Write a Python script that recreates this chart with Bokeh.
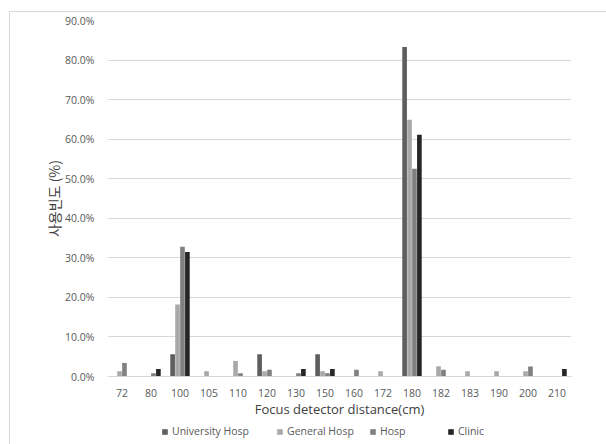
from bokeh.plotting import figure
from bokeh.layouts import column
from bokeh.models import ColumnDataSource, NumeralTickFormatter, FixedTicker, Legend, LegendItem
from bokeh.transform import dodge
from bokeh.embed import file_html
from bokeh.resources import INLINE

categories = ["72", "80", "100", "105", "110", "120", "130", "150", "160", "172",
              "180", "182", "183", "190", "200", "210"]
university = [0, 0, 5.6, 0, 0, 5.6, 0, 5.6, 0, 0, 83.3, 0, 0, 0, 0, 0]
general = [1.3, 0, 18.2, 1.3, 3.9, 1.3, 0, 1.3, 0, 1.3, 64.9, 2.6, 1.3, 1.3, 1.3, 0]
hosp = [3.4, 0.8, 32.8, 0, 0.8, 1.7, 0.8, 0.8, 1.7, 0, 52.5, 1.7, 0, 0, 2.5, 0]
clinic = [0, 1.9, 31.5, 0, 0, 0, 1.9, 1.9, 0, 0, 61.1, 0, 0, 0, 0, 1.9]
series_names = ["University Hosp", "General Hosp", "Hosp", "Clinic"]
colors = ["#5e5e5e", "#a9a9a9", "#808080", "#262626"]
y_ticks = [0, 0.1, 0.2, 0.3, 0.4, 0.5, 0.6, 0.7, 0.8, 0.9]

src = ColumnDataSource(dict(
    cat=categories,
    u=[v / 100 for v in university],
    g=[v / 100 for v in general],
    h=[v / 100 for v in hosp],
    c=[v / 100 for v in clinic],
))

p = figure(x_range=categories, y_range=(0, 0.9), width=596, height=408,
           output_backend="svg", toolbar_location=None,
           min_border_left=97, min_border_right=35, min_border_top=8, min_border_bottom=44)
p.outline_line_color = None
p.background_fill_color = "white"
p.border_fill_color = "white"

offsets = [-0.255, -0.085, 0.085, 0.255]
for key, off, col in zip(["u", "g", "h", "c"], offsets, colors):
    p.vbar(x=dodge("cat", off, range=p.x_range), top=key, width=0.16, source=src,
           fill_color=col, line_color=None)

p.yaxis.ticker = FixedTicker(ticks=y_ticks)
p.yaxis.formatter = NumeralTickFormatter(format="0.0%")
p.yaxis.axis_line_color = None
p.yaxis.major_tick_line_color = None
p.yaxis.minor_tick_line_color = None
p.yaxis.major_label_text_color = "#595959"
p.yaxis.major_label_text_font = "Open Sans"
p.yaxis.major_label_text_font_size = "10.5px"
p.yaxis.major_label_standoff = 7
p.yaxis.axis_label = "사용빈도 (%)"
p.yaxis.axis_label_text_font = "Noto Sans CJK KR"
p.yaxis.axis_label_text_font_style = "normal"
p.yaxis.axis_label_text_font_size = "14px"
p.yaxis.axis_label_text_color = "#404040"
p.yaxis.axis_label_standoff = -2

p.xaxis.axis_line_color = "#d9d9d9"
p.xaxis.major_tick_line_color = None
p.xaxis.minor_tick_line_color = None
p.xaxis.major_label_text_color = "#595959"
p.xaxis.major_label_text_font = "Open Sans"
p.xaxis.major_label_text_font_size = "10.5px"
p.xaxis.major_label_standoff = 6
p.xaxis.axis_label = "Focus detector distance(cm)"
p.xaxis.axis_label_text_font = "Open Sans"
p.xaxis.axis_label_text_font_style = "normal"
p.xaxis.axis_label_text_font_size = "13px"
p.xaxis.axis_label_text_color = "#404040"
p.xaxis.axis_label_standoff = 0

p.xgrid.grid_line_color = None
p.ygrid.grid_line_color = "#d9d9d9"
p.ygrid.grid_line_width = 1

# legend strip below the chart (its bars have zero width and lie outside the y range)
lg = figure(x_range=p.x_range, y_range=(-1, -0.5), width=596, height=24,
            output_backend="svg", toolbar_location=None,
            min_border_left=0, min_border_right=0, min_border_top=0, min_border_bottom=0)
lg.axis.visible = False
lg.grid.visible = False
lg.outline_line_color = None
lg.border_fill_color = "white"
leg_renderers = []
for key, off, col in zip(["u", "g", "h", "c"], offsets, colors):
    r = lg.vbar(x=dodge("cat", off, range=lg.x_range), top=key, width=0, source=src,
                fill_color=col, line_color=None)
    leg_renderers.append(r)

legend_x = [54, 169, 262, 340]
for name, r, lx in zip(series_names, leg_renderers, legend_x):
    legend = Legend(items=[LegendItem(label=name, renderers=[r])],
                    orientation="horizontal", location=(lx, 6))
    legend.label_text_font = "Open Sans"
    legend.label_text_font_size = "10.5px"
    legend.label_text_color = "#595959"
    legend.glyph_width = 7
    legend.glyph_height = 7
    legend.label_standoff = 4
    legend.padding = 0
    legend.margin = 0
    legend.border_line_color = None
    legend.background_fill_alpha = 0
    legend.label_height = 12
    lg.add_layout(legend, "center")

layout = column(p, lg, spacing=0)
layout.styles = {"margin-left": "9px", "margin-top": "11px",
                 "border-left": "1px solid #d9d9d9", "border-top": "1px solid #d9d9d9"}

open("out.html", "w").write(file_html(layout, INLINE))
